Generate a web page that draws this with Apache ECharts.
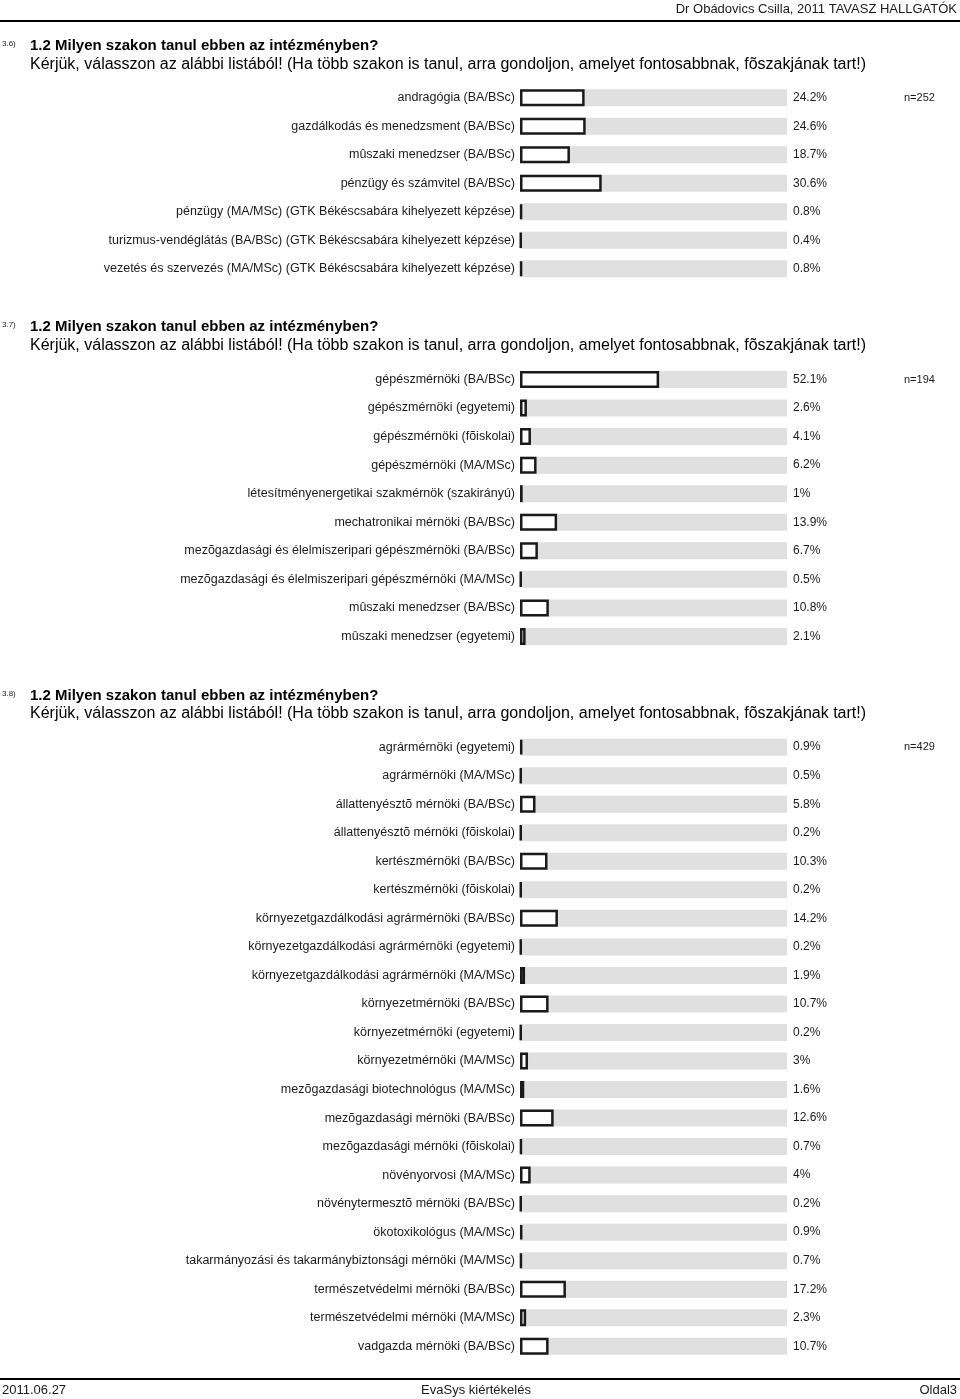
<!DOCTYPE html>
<html>
<head>
<meta charset="utf-8">
<script src="https://cdn.jsdelivr.net/npm/echarts@6/dist/echarts.min.js"></script>
<style>
html,body{margin:0;padding:0;background:#fff;}
#c{width:960px;height:1399px;}
</style>
</head>
<body>
<div id="c"></div>
<script>
// ---- data ----
const cats36 = [
  'andragógia (BA/BSc)',
  'gazdálkodás és menedzsment (BA/BSc)',
  'mûszaki menedzser (BA/BSc)',
  'pénzügy és számvitel (BA/BSc)',
  'pénzügy (MA/MSc) (GTK Békéscsabára kihelyezett képzése)',
  'turizmus-vendéglátás (BA/BSc) (GTK Békéscsabára kihelyezett képzése)',
  'vezetés és szervezés (MA/MSc) (GTK Békéscsabára kihelyezett képzése)'
];
const vals36 = [24.2, 24.6, 18.7, 30.6, 0.8, 0.4, 0.8];
const n36 = 252;

const cats37 = [
  'gépészmérnöki (BA/BSc)',
  'gépészmérnöki (egyetemi)',
  'gépészmérnöki (fõiskolai)',
  'gépészmérnöki (MA/MSc)',
  'létesítményenergetikai szakmérnök (szakirányú)',
  'mechatronikai mérnöki (BA/BSc)',
  'mezõgazdasági és élelmiszeripari gépészmérnöki (BA/BSc)',
  'mezõgazdasági és élelmiszeripari gépészmérnöki (MA/MSc)',
  'mûszaki menedzser (BA/BSc)',
  'mûszaki menedzser (egyetemi)'
];
const vals37 = [52.1, 2.6, 4.1, 6.2, 1, 13.9, 6.7, 0.5, 10.8, 2.1];
const n37 = 194;

const cats38 = [
  'agrármérnöki (egyetemi)',
  'agrármérnöki (MA/MSc)',
  'állattenyésztõ mérnöki (BA/BSc)',
  'állattenyésztõ mérnöki (fõiskolai)',
  'kertészmérnöki (BA/BSc)',
  'kertészmérnöki (fõiskolai)',
  'környezetgazdálkodási agrármérnöki (BA/BSc)',
  'környezetgazdálkodási agrármérnöki (egyetemi)',
  'környezetgazdálkodási agrármérnöki (MA/MSc)',
  'környezetmérnöki (BA/BSc)',
  'környezetmérnöki (egyetemi)',
  'környezetmérnöki (MA/MSc)',
  'mezõgazdasági biotechnológus (MA/MSc)',
  'mezõgazdasági mérnöki (BA/BSc)',
  'mezõgazdasági mérnöki (fõiskolai)',
  'növényorvosi (MA/MSc)',
  'növénytermesztõ mérnöki (BA/BSc)',
  'ökotoxikológus (MA/MSc)',
  'takarmányozási és takarmánybiztonsági mérnöki (MA/MSc)',
  'természetvédelmi mérnöki (BA/BSc)',
  'természetvédelmi mérnöki (MA/MSc)',
  'vadgazda mérnöki (BA/BSc)'
];
const vals38 = [0.9, 0.5, 5.8, 0.2, 10.3, 0.2, 14.2, 0.2, 1.9, 10.7, 0.2, 3, 1.6, 12.6, 0.7, 4, 0.2, 0.9, 0.7, 17.2, 2.3, 10.7];
const n38 = 429;

const headerText = 'Dr Obádovics Csilla, 2011 TAVASZ HALLGATÓK';
const questionTitle = '1.2 Milyen szakon tanul ebben az intézményben?';
const questionSub = 'Kérjük, válasszon az alábbi listából! (Ha több szakon is tanul, arra gondoljon, amelyet fontosabbnak, fõszakjának tart!)';
const footerLeft = '2011.06.27';
const footerMid = 'EvaSys kiértékelés';
const footerRight = 'Oldal3';

// ---- layout ----
const FONT = '"Liberation Sans", Arial, sans-serif';
const sections = [
  {no: '3.6)', cats: cats36, vals: vals36, n: n36, top: 83.5, band: 28.5, titleY: 46, subY: 65},
  {no: '3.7)', cats: cats37, vals: vals37, n: n37, top: 365.2, band: 28.55, titleY: 327, subY: 346},
  {no: '3.8)', cats: cats38, vals: vals38, n: n38, top: 732.9, band: 28.53, titleY: 696, subY: 714}
];

const grids = [], xAxes = [], yAxes = [], series = [], graphics = [];
sections.forEach((s, i) => {
  grids.push({left: 520, width: 267, top: s.top, height: s.band * s.cats.length, containLabel: false});
  xAxes.push({gridIndex: i, type: 'value', min: 0, max: 100, show: false});
  yAxes.push({
    gridIndex: i, type: 'category', data: s.cats, inverse: true,
    axisLine: {show: false}, axisTick: {show: false}, splitLine: {show: false},
    axisLabel: {margin: 5, fontSize: 12.5, color: '#1a1a1a', fontFamily: FONT}
  });
  series.push({
    type: 'bar', xAxisIndex: i, yAxisIndex: i, barWidth: 17, barGap: '-100%',
    data: s.vals.map(() => 100), silent: true, z: 1,
    itemStyle: {color: '#e0e0e0'},
    label: {show: true, position: 'right', distance: 6, fontSize: 12, color: '#1a1a1a', fontFamily: FONT,
      formatter: p => s.vals[p.dataIndex] + '%'}
  });
  series.push({
    type: 'bar', xAxisIndex: i, yAxisIndex: i, barWidth: 17, barGap: '-100%',
    data: s.vals, z: 2, barMinHeight: 1.5,
    itemStyle: {color: '#ffffff', borderColor: '#1a1a1a', borderWidth: 2.5}
  });
  graphics.push({type: 'text', left: 2, top: s.titleY - 6, style: {text: s.no, font: '8px ' + FONT, fill: '#1a1a1a'}});
  graphics.push({type: 'text', x: 30, y: s.titleY, style: {text: questionTitle, font: 'bold 15px ' + FONT, fill: '#000', textVerticalAlign: 'middle'}});
  graphics.push({type: 'text', x: 30, y: s.subY, style: {text: questionSub, font: '16px ' + FONT, fill: '#000', textVerticalAlign: 'middle'}});
  graphics.push({type: 'text', x: 904, y: s.top + s.band / 2, style: {text: 'n=' + s.n, font: '11px ' + FONT, fill: '#1a1a1a', textVerticalAlign: 'middle'}});
});

graphics.push({type: 'text', x: 957, y: 9, style: {text: headerText, font: '13px ' + FONT, fill: '#1a1a1a', textAlign: 'right', textVerticalAlign: 'middle'}});
graphics.push({type: 'rect', shape: {x: 0, y: 20, width: 960, height: 2}, style: {fill: '#000'}});
graphics.push({type: 'rect', shape: {x: 0, y: 1378, width: 960, height: 2}, style: {fill: '#000'}});
graphics.push({type: 'text', x: 2, y: 1390, style: {text: footerLeft, font: '13px ' + FONT, fill: '#1a1a1a', textVerticalAlign: 'middle'}});
graphics.push({type: 'text', x: 476, y: 1390, style: {text: footerMid, font: '13px ' + FONT, fill: '#1a1a1a', textAlign: 'center', textVerticalAlign: 'middle'}});
graphics.push({type: 'text', x: 957, y: 1390, style: {text: footerRight, font: '13px ' + FONT, fill: '#1a1a1a', textAlign: 'right', textVerticalAlign: 'middle'}});

const chart = echarts.init(document.getElementById('c'), null, {renderer: 'canvas'});
chart.setOption({
  animation: false,
  backgroundColor: '#ffffff',
  grid: grids, xAxis: xAxes, yAxis: yAxes, series: series, graphic: graphics
});
</script>
</body>
</html>
